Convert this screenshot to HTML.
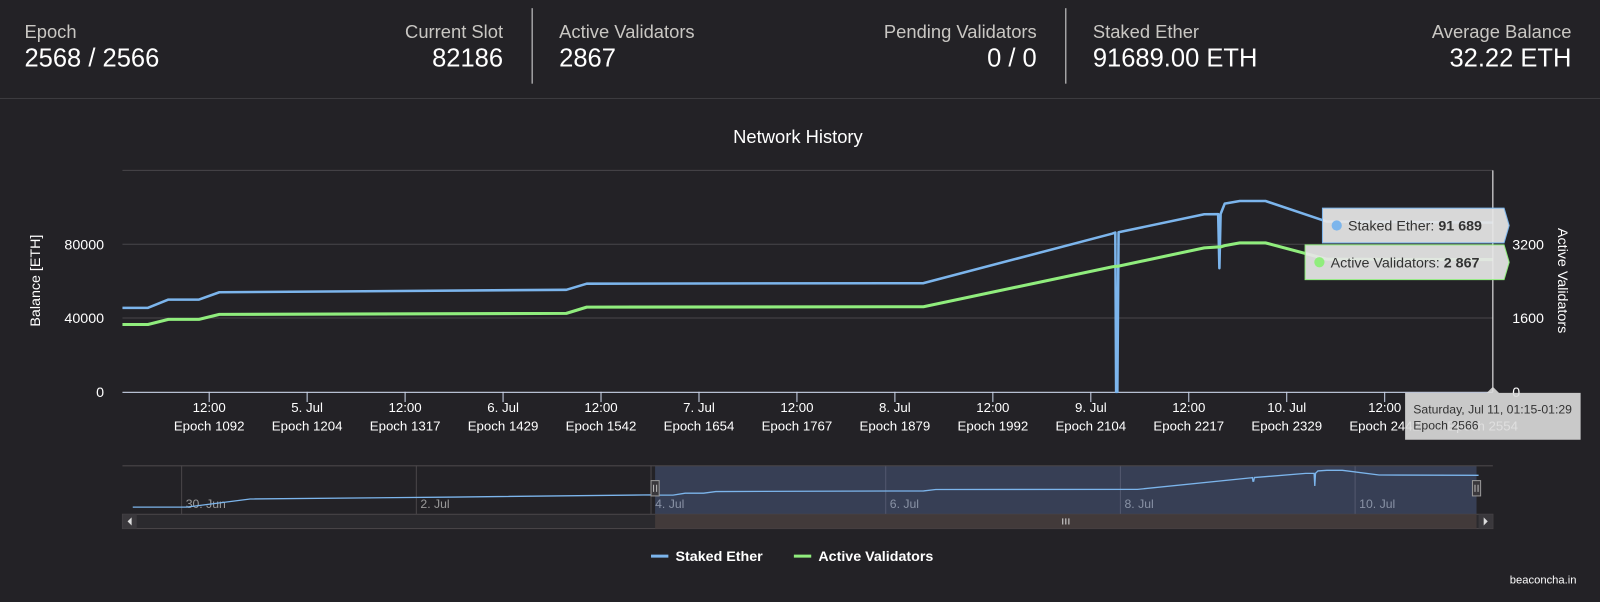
<!DOCTYPE html>
<html><head><meta charset="utf-8"><style>
html,body{margin:0;padding:0;background:#232226;width:1600px;height:602px;overflow:hidden;font-family:"Liberation Sans",sans-serif;}
#wrap{position:absolute;left:0;top:0;width:1568px;height:590px;transform:scale(1.020408);transform-origin:0 0;}
.hdr{position:absolute;left:0;top:0;width:1568px;height:96px;border-bottom:1px solid #3d3c40;}
.st{position:absolute;top:20px;}
.st .l{font-size:18px;color:#c9c7c3;line-height:22px;}
.st .v{font-size:25px;color:#fff;line-height:30px;}
.r{text-align:right;}
.div{position:absolute;top:8px;width:1px;height:74px;background:#ddd;}
svg{position:absolute;left:0;top:0;}
</style></head><body>
<div id="wrap">
<div class="hdr">
 <div class="st" style="left:24px"><div class="l">Epoch</div><div class="v">2568 / 2566</div></div>
 <div class="st r" style="right:1075px"><div class="l">Current Slot</div><div class="v">82186</div></div>
 <div class="div" style="left:521px"></div>
 <div class="st" style="left:548px"><div class="l">Active Validators</div><div class="v">2867</div></div>
 <div class="st r" style="right:552px"><div class="l">Pending Validators</div><div class="v">0 / 0</div></div>
 <div class="div" style="left:1044px"></div>
 <div class="st" style="left:1071px"><div class="l">Staked Ether</div><div class="v">91689.00 ETH</div></div>
 <div class="st r" style="right:28px"><div class="l">Average Balance</div><div class="v">32.22 ETH</div></div>
</div>
<svg id="chart" width="1568" height="590" font-family="Liberation Sans, sans-serif"></svg>
</div>
<script>
// data: hours since 4 Jul 00:00
const seriesHours = [1.375,4.5,7,10.75,13.25,55.75,58.25,99.5,122.6,123,123.1,123.25,123.4,133.9,135.6,135.75,135.9,136.4,138.25,141.4,148.9,169.25];
const stakedEther = [45500,45500,50000,50000,54000,55300,58600,58900,85700,86300,0,0,86500,96200,96300,67000,96400,102000,103400,103400,92300,91689];
const activeValidators = [1460,1460,1570,1570,1680,1700,1835,1845,2710,2720,2720,2720,2725,3120,3140,3140,3140,3170,3230,3230,2875,2867];
const leftTicks = [0,40000,80000];
const rightTicks = [0,1600,3200];
const xTickHours = [12,24,36,48,60,72,84,96,108,120,132,144,156];
const xTickLabels = ["12:00","5. Jul","12:00","6. Jul","12:00","7. Jul","12:00","8. Jul","12:00","9. Jul","12:00","10. Jul","12:00"];
const xTickEpochs = ["Epoch 1092","Epoch 1204","Epoch 1317","Epoch 1429","Epoch 1542","Epoch 1654","Epoch 1767","Epoch 1879","Epoch 1992","Epoch 2104","Epoch 2217","Epoch 2329","Epoch 2442"];
const navEarlyHours = [-106,-95,-82,-40,0];
const navEarlyValues = [17500,17500,36500,41000,46000];
const navTickHours = [-96,-48,0,48,96,144];
const navTickLabels = ["30. Jun","2. Jul","4. Jul","6. Jul","8. Jul","10. Jul"];

const NS="http://www.w3.org/2000/svg";
const svg=document.getElementById('chart');
function mk(tag,attrs,parent){const e=document.createElementNS(NS,tag);for(const k in attrs)e.setAttribute(k,attrs[k]);(parent||svg).appendChild(e);return e;}
const X0=120,X1=1463,YT=167,YB=384;
const xs=h=>205+(h-12)*8;
const yl=v=>YB-v/120000*(YB-YT);
const yr=v=>YB-v/4800*(YB-YT);
const nx=h=>638+h*(230/48);
const ny=v=>504.4-v*0.000421;

let t=mk('text',{x:782,y:140,fill:'#fff','font-size':18,'text-anchor':'middle'});
t.textContent='Network History';

[0,40000,80000,120000].forEach(v=>{const g=mk('line',{x1:X0,x2:X1,y1:yl(v),y2:yl(v),stroke:'#48464a','stroke-width':1});
});
let ax=mk('line',{x1:X0,x2:X1,y1:YB+.5,y2:YB+.5,stroke:'#ccd6eb','stroke-width':1});


leftTicks.forEach(v=>{const e=mk('text',{x:102,y:yl(v)+5,fill:'#fff','font-size':14,'text-anchor':'end'});
e.textContent=v;});
rightTicks.forEach(v=>{const e=mk('text',{x:1482,y:yr(v)+5,fill:'#fff','font-size':14});
e.textContent=v;});
let a1=mk('text',{x:0,y:0,fill:'#fff','font-size':14,'text-anchor':'middle',transform:'translate(39,275) rotate(-90)'});
a1.textContent='Balance [ETH]';
let a2=mk('text',{x:0,y:0,fill:'#fff','font-size':14,'text-anchor':'middle',transform:'translate(1527,275) rotate(90)'});
a2.textContent='Active Validators';

xTickHours.forEach((h,i)=>{const x=xs(h);
 const tk=mk('line',{x1:x,x2:x,y1:YB,y2:YB+10,stroke:'#ccd6eb'});
 const a=mk('text',{x:x,y:404,fill:'#fff','font-size':13,'text-anchor':'middle'});a.textContent=xTickLabels[i];
 const b=mk('text',{x:x,y:422,fill:'#fff','font-size':13,'text-anchor':'middle'});b.textContent=xTickEpochs[i];});

const ab=mk('text',{x:1453,y:422,fill:'#fff','font-size':13,'text-anchor':'middle'});ab.textContent='Epoch 2554';

function path(hs,vs,fx,fy){return hs.map((h,i)=>(i?'L':'M')+fx(h).toFixed(1)+' '+fy(vs[i]).toFixed(1)).join(' ');}
let ln=mk('path',{d:path(seriesHours,stakedEther,xs,yl),fill:'none',stroke:'#7cb5ec','stroke-width':2.5,'stroke-linejoin':'round'});

let lg=mk('path',{d:path(seriesHours,activeValidators,xs,yr),fill:'none',stroke:'#90ed7d','stroke-width':3,'stroke-linejoin':'round'});


let ch=mk('line',{x1:X1,x2:X1,y1:YT,y2:YB,stroke:'#fff','stroke-width':1});

const lastE=stakedEther[stakedEther.length-1],lastV=activeValidators[activeValidators.length-1];
function fmt(n){return String(n).replace(/\B(?=(\d{3})+(?!\d))/g,' ');}
function tip(x,y,w,stroke,color,label,val,name){
 const g=mk('g',{});
 mk('path',{d:`M${x} ${y} H${x+w} L${x+w+5} ${y+17} L${x+w} ${y+34} H${x} Z`,fill:'rgba(230,230,230,0.93)',stroke:stroke,'stroke-width':1},g);
 mk('circle',{cx:x+14,cy:y+17,r:5,fill:color},g);
 const tt=mk('text',{x:x+25,y:y+22,fill:'#333','font-size':14},g);tt.innerHTML=label+': <tspan font-weight="bold">'+fmt(val)+'</tspan>';
}
tip(1296,204,178,'#7cb5ec','#7cb5ec','Staked Ether',lastE,'staked-ether-tooltip');
tip(1279,240,195,'#90ed7d','#90ed7d','Active Validators',lastV,'active-validators-tooltip');
let tg=mk('g',{});
mk('path',{d:'M1377 385 H1457 L1463 379 L1469 385 H1549 V431 H1377 Z',fill:'rgba(220,220,220,0.9)'},tg);
let t1=mk('text',{x:1385,y:405,fill:'#333','font-size':12},tg);t1.textContent='Saturday, Jul 11, 01:15-01:29';
let t2=mk('text',{x:1385,y:421,fill:'#333','font-size':12},tg);t2.textContent='Epoch 2566';

let nv=mk('g',{});
mk('line',{x1:X0,x2:X1,y1:456.5,y2:456.5,stroke:'#4a4649'},nv);
navTickHours.forEach((h,i)=>{mk('line',{x1:nx(h),x2:nx(h),y1:456,y2:504,stroke:'#4a4649'},nv);
 const e=mk('text',{x:nx(h)+4,y:498,fill:'#999','font-size':12},nv);e.textContent=navTickLabels[i];});
let sel=mk('rect',{x:642,y:457,width:805,height:47,fill:'rgba(102,133,194,0.3)'},nv);

const nh=navEarlyHours.concat(seriesHours),nvv=navEarlyValues.concat(stakedEther.map(v=>v===0?78000:v));
mk('path',{d:path(nh,nvv,nx,ny),fill:'none',stroke:'#7cb5ec','stroke-width':1.3},nv);
let sb=mk('g',{});
mk('rect',{x:120,y:504,width:1343,height:14,fill:'#2b2a2e',stroke:'#4a4649'},sb);
mk('rect',{x:642,y:504,width:805,height:14,fill:'#423a3a'},sb);
mk('rect',{x:120,y:504,width:14,height:14,fill:'#3a383c'},sb);
mk('rect',{x:1449,y:504,width:14,height:14,fill:'#3a383c'},sb);
mk('path',{d:'M129 507 L125 511 L129 515 Z',fill:'#ddd'},sb);
mk('path',{d:'M1454 507 L1458 511 L1454 515 Z',fill:'#ddd'},sb);
mk('path',{d:'M1041.5 508 V514 M1044.5 508 V514 M1047.5 508 V514',stroke:'#ddd','stroke-width':1},sb);
[642,1447].forEach(x=>{const h=mk('rect',{x:x-4,y:471,width:8,height:15,fill:'#3a383c',stroke:'#999'},nv);
 
 mk('path',{d:`M${x-1.5} 475 V482 M${x+1.5} 475 V482`,stroke:'#bbb'},nv);});

function leg(x,color,label,name){const g=mk('g',{});
 mk('line',{x1:x,x2:x+17,y1:545,y2:545,stroke:color,'stroke-width':3},g);
 const e=mk('text',{x:x+24,y:550,fill:'#fff','font-size':14,'font-weight':'bold'},g);e.textContent=label;}
leg(638,'#7cb5ec','Staked Ether','legend-staked-ether');
leg(778,'#90ed7d','Active Validators','legend-active-validators');
let cr=mk('text',{x:1545,y:572,fill:'#fff','font-size':11,'text-anchor':'end'});cr.textContent='beaconcha.in';
</script>
</body></html>
